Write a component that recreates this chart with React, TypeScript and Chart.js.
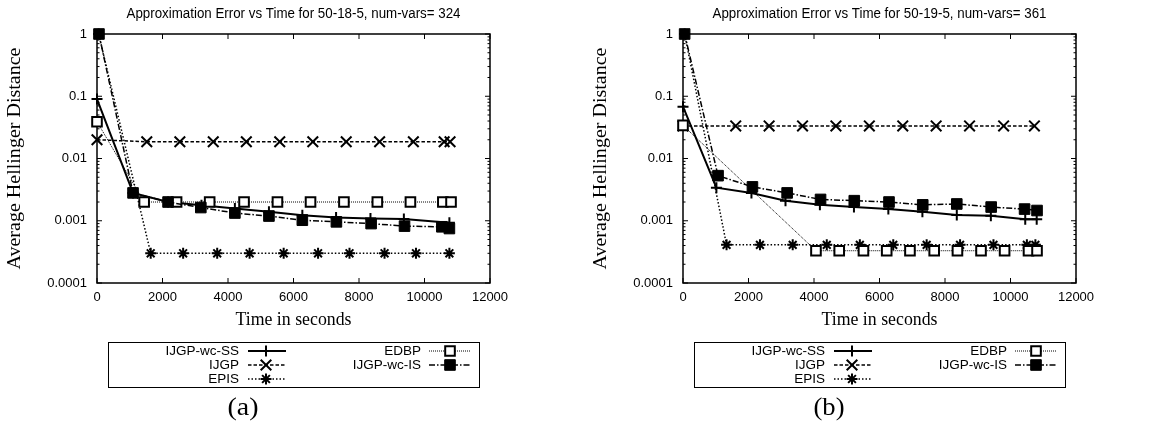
import React, { useEffect, useRef } from 'react';
import { Chart, registerables } from 'chart.js';

Chart.register(...registerables);

// ---------- shared axis data ----------
const X_TICKS = [0, 2000, 4000, 6000, 8000, 10000, 12000];
const Y_TICKS = [1, 0.1, 0.01, 0.001, 0.0001];
const Y_TICK_LABELS = ['1', '0.1', '0.01', '0.001', '0.0001'];
const SERIES_NAMES = ['IJGP-wc-SS', 'IJGP', 'EPIS', 'EDBP', 'IJGP-wc-IS'];
const X_LABEL = 'Time in seconds';
const Y_LABEL = 'Average Hellinger Distance';

// ---------- panel (a) ----------
const A_TITLE = 'Approximation Error vs Time for 50-18-5, num-vars= 324';
const A_PANEL = '(a)';
const A_SS_T = [0, 1100, 2170, 3190, 4210, 5250, 6270, 7300, 8350, 9370, 10760];
const A_SS_V = [0.09, 0.0028, 0.002, 0.00178, 0.00158, 0.00139, 0.00123, 0.00113, 0.00109, 0.00107, 0.00093];
const A_IJGP_T = [0, 1520, 2530, 3550, 4560, 5580, 6590, 7610, 8630, 9660, 10600, 10780];
const A_IJGP_V = [0.02, 0.0186, 0.0186, 0.0186, 0.0186, 0.0186, 0.0186, 0.0186, 0.0186, 0.0186, 0.0186, 0.0186];
const A_EPIS_T = [50, 1640, 2630, 3670, 4660, 5700, 6750, 7710, 8780, 9740, 10760];
const A_EPIS_V = [1, 0.0003, 0.0003, 0.0003, 0.0003, 0.0003, 0.0003, 0.0003, 0.0003, 0.0003, 0.0003];
const A_EDBP_T = [0, 1440, 2430, 3440, 4490, 5510, 6520, 7540, 8560, 9570, 10560, 10810];
const A_EDBP_V = [0.039, 0.002, 0.002, 0.002, 0.002, 0.002, 0.002, 0.002, 0.002, 0.002, 0.002, 0.002];
const A_IS_T = [60, 1100, 2170, 3170, 4210, 5250, 6270, 7310, 8370, 9390, 10530, 10760];
const A_IS_V = [1, 0.0028, 0.002, 0.00163, 0.00133, 0.00119, 0.00102, 0.00096, 0.0009, 0.00082, 0.0008, 0.00075];

// ---------- panel (b) ----------
const B_TITLE = 'Approximation Error vs Time for 50-19-5, num-vars= 361';
const B_PANEL = '(b)';
const B_SS_T = [0, 1020, 2090, 3130, 4180, 5220, 6270, 7310, 8360, 9400, 10450, 10800];
const B_SS_V = [0.068, 0.0034, 0.0028, 0.0021, 0.0018, 0.00166, 0.00155, 0.0014, 0.00124, 0.0012, 0.00106, 0.00106];
const B_IJGP_T = [0, 1610, 2630, 3650, 4670, 5690, 6710, 7730, 8750, 9790, 10730];
const B_IJGP_V = [0.0334, 0.0334, 0.0334, 0.0334, 0.0334, 0.0334, 0.0334, 0.0334, 0.0334, 0.0334, 0.0334];
const B_EPIS_T = [50, 1330, 2350, 3350, 4390, 5400, 6420, 7440, 8460, 9480, 10500, 10760];
const B_EPIS_V = [1, 0.00041, 0.00041, 0.00041, 0.00041, 0.00041, 0.00041, 0.00041, 0.00041, 0.00041, 0.00041, 0.00041];
const B_EDBP_T = [0, 4060, 4770, 5510, 6220, 6930, 7670, 8380, 9100, 9820, 10550, 10810];
const B_EDBP_V = [0.034, 0.00033, 0.00033, 0.00033, 0.00033, 0.00033, 0.00033, 0.00033, 0.00033, 0.00033, 0.00033, 0.00033];
const B_IS_T = [50, 1070, 2120, 3180, 4200, 5230, 6290, 7320, 8360, 9410, 10430, 10810];
const B_IS_V = [1, 0.0053, 0.0035, 0.0028, 0.0022, 0.0021, 0.002, 0.0018, 0.00186, 0.00166, 0.00154, 0.00146];

// ---------- styles (not data) ----------
type Sty = { dash: number[]; width: number; point: string; r: number; fill: string; pbw: number; order: number };
const STYLES: Record<string, Sty> = {
  'IJGP-wc-SS': { dash: [], width: 2, point: 'cross', r: 5.5, fill: '#000', pbw: 2, order: 5 },
  'IJGP': { dash: [3.5, 2], width: 1.5, point: 'crossRot', r: 7.5, fill: '#000', pbw: 2, order: 4 },
  'EPIS': { dash: [1.5, 2], width: 1.5, point: 'star', r: 5.5, fill: '#000', pbw: 2, order: 3 },
  'EDBP': { dash: [1, 1], width: 1, point: 'rect', r: 6.8, fill: '#fff', pbw: 2, order: 2 },
  'IJGP-wc-IS': { dash: [6, 2, 1.5, 2], width: 1.5, point: 'rect', r: 7.5, fill: '#000', pbw: 1, order: 1 },
};

const W = 575;
const H = 427;
const PLOT_LEFT = 97;
const PLOT_RIGHT = 490;
const PLOT_TOP = 34;
const PLOT_BOTTOM = 283;

function drawMarker(ctx: CanvasRenderingContext2D, style: string, x: number, y: number, r: number, fill: string, lw: number) {
  ctx.save();
  ctx.setLineDash([]);
  ctx.lineWidth = lw;
  ctx.strokeStyle = '#000';
  ctx.beginPath();
  const s = r * Math.SQRT1_2;
  if (style === 'cross' || style === 'star') {
    ctx.moveTo(x - r, y); ctx.lineTo(x + r, y);
    ctx.moveTo(x, y - r); ctx.lineTo(x, y + r);
  }
  if (style === 'crossRot' || style === 'star') {
    ctx.moveTo(x - s, y - s); ctx.lineTo(x + s, y + s);
    ctx.moveTo(x - s, y + s); ctx.lineTo(x + s, y - s);
  }
  if (style === 'rect') {
    ctx.rect(x - s, y - s, 2 * s, 2 * s);
    ctx.fillStyle = fill;
    ctx.fill();
  }
  ctx.stroke();
  ctx.restore();
}

function fitText(ctx: CanvasRenderingContext2D, text: string, x: number, y: number, font: string, targetW: number, rotate = false) {
  ctx.save();
  ctx.font = font;
  ctx.fillStyle = '#000';
  ctx.textAlign = 'center';
  ctx.textBaseline = 'middle';
  const w = ctx.measureText(text).width;
  const sx = w > 0 ? targetW / w : 1;
  ctx.translate(x, y);
  if (rotate) ctx.rotate(-Math.PI / 2);
  ctx.scale(sx, 1);
  ctx.fillText(text, 0, 0);
  ctx.restore();
}

const framePlugin = {
  id: 'gnuFrame',
  beforeDatasetsDraw(chart: any) {
    const { ctx, chartArea: a, scales } = chart;
    ctx.save();
    ctx.strokeStyle = '#000';
    ctx.lineWidth = 1;
    ctx.beginPath();
    X_TICKS.forEach((v) => {
      const px = scales.x.getPixelForValue(v);
      ctx.moveTo(px, a.bottom); ctx.lineTo(px, a.bottom - 5);
      ctx.moveTo(px, a.top); ctx.lineTo(px, a.top + 5);
    });
    for (let e = -4; e <= 0; e++) {
      const d = Math.pow(10, e);
      for (let k = 1; k <= 9; k++) {
        if (e === 0 && k > 1) break;
        const py = scales.y.getPixelForValue(k * d);
        const len = k === 1 ? 5 : 2.5;
        ctx.moveTo(a.left, py); ctx.lineTo(a.left + len, py);
        ctx.moveTo(a.right, py); ctx.lineTo(a.right - len, py);
      }
    }
    ctx.stroke();
    ctx.lineWidth = 1.5;
    ctx.strokeRect(a.left, a.top, a.right - a.left, a.bottom - a.top);
    ctx.restore();
  },
};

const textPlugin = {
  id: 'gnuText',
  afterDraw(chart: any, _args: any, opts: any) {
    const { ctx, chartArea: a } = chart;
    const cx = (a.left + a.right) / 2;
    fitText(ctx, opts.title, cx, 14, '14px "Liberation Sans"', 334);
    fitText(ctx, X_LABEL, cx, 320, '19px "Liberation Serif"', 116);
    fitText(ctx, Y_LABEL, 15, (a.top + a.bottom) / 2, '18px "Liberation Serif"', 222, true);
    fitText(ctx, opts.panel, 243, 408, '25px "Liberation Serif"', 31);

    // legend box
    ctx.save();
    ctx.strokeStyle = '#000';
    ctx.lineWidth = 1;
    ctx.strokeRect(108.5, 342.5, 371, 45);
    ctx.restore();

    const rows = [351, 365, 379];
    const cols = [
      { textRight: 239, x0: 248, x1: 286, mx: 266 },
      { textRight: 421, x0: 429, x1: 470, mx: 450 },
    ];
    chart.data.datasets.forEach((ds: any, i: number) => {
      const col = cols[i < 3 ? 0 : 1];
      const y = rows[i < 3 ? i : i - 3];
      ctx.save();
      ctx.font = '13.5px "Liberation Sans"';
      ctx.fillStyle = '#000';
      ctx.textAlign = 'right';
      ctx.textBaseline = 'middle';
      ctx.fillText(ds.label, col.textRight, y);
      ctx.strokeStyle = '#000';
      ctx.lineWidth = ds.borderWidth;
      ctx.setLineDash(ds.borderDash || []);
      ctx.beginPath();
      ctx.moveTo(col.x0, y);
      ctx.lineTo(col.x1, y);
      ctx.stroke();
      ctx.restore();
      drawMarker(ctx, ds.pointStyle, col.mx, y, ds.pointRadius, ds.pointBackgroundColor, ds.pointBorderWidth);
    });
  },
};

function buildConfig(title: string, panel: string, series: [number[], number[]][]): any {
  const datasets = SERIES_NAMES.map((name, i) => {
    const st = STYLES[name];
    const [t, v] = series[i];
    return {
      label: name,
      data: t.map((x, j) => ({ x, y: v[j] })),
      borderColor: '#000',
      borderWidth: st.width,
      borderDash: st.dash,
      pointStyle: st.point,
      pointRadius: st.r,
      pointHoverRadius: st.r,
      pointBackgroundColor: st.fill,
      pointBorderColor: '#000',
      pointBorderWidth: st.pbw,
      fill: false,
      tension: 0,
      clip: false,
      order: st.order,
    };
  });
  return {
    type: 'line',
    data: { datasets },
    options: {
      animation: false,
      responsive: false,
      devicePixelRatio: 1,
      events: [],
      layout: { padding: { left: 0, top: PLOT_TOP, right: W - PLOT_RIGHT, bottom: 0 } },
      plugins: {
        legend: { display: false },
        title: { display: false },
        tooltip: { enabled: false },
        gnuText: { title, panel },
      },
      scales: {
        x: {
          type: 'linear',
          min: 0,
          max: 12000,
          afterFit: (s: any) => { s.height = H - PLOT_BOTTOM; },
          afterBuildTicks: (s: any) => { s.ticks = X_TICKS.map((value) => ({ value })); },
          grid: { display: false, drawTicks: false },
          border: { display: false },
          ticks: {
            autoSkip: false,
            maxRotation: 0,
            padding: 7,
            color: '#000',
            font: { family: '"Liberation Sans"', size: 13 },
            callback: (v: any) => String(v),
          },
        },
        y: {
          type: 'logarithmic',
          min: 0.0001,
          max: 1,
          afterFit: (s: any) => { s.width = PLOT_LEFT; },
          afterBuildTicks: (s: any) => { s.ticks = Y_TICKS.map((value) => ({ value })); },
          grid: { display: false, drawTicks: false },
          border: { display: false },
          ticks: {
            autoSkip: false,
            padding: 10,
            color: '#000',
            font: { family: '"Liberation Sans"', size: 13 },
            callback: (v: any) => {
              const i = Y_TICKS.findIndex((t) => Math.abs(t - Number(v)) < t * 1e-6);
              return i >= 0 ? Y_TICK_LABELS[i] : '';
            },
          },
        },
      },
    },
    plugins: [framePlugin, textPlugin],
  };
}

function Panel({ left, title, panel, series }: { left: number; title: string; panel: string; series: [number[], number[]][] }) {
  const ref = useRef<HTMLCanvasElement>(null);
  useEffect(() => {
    if (!ref.current) return;
    const chart = new Chart(ref.current, buildConfig(title, panel, series));
    return () => chart.destroy();
  }, []);
  return (
    <canvas
      ref={ref}
      width={W}
      height={H}
      style={{ position: 'absolute', left, top: 0, width: W, height: H }}
    />
  );
}

export default function App() {
  const seriesA: [number[], number[]][] = [
    [A_SS_T, A_SS_V],
    [A_IJGP_T, A_IJGP_V],
    [A_EPIS_T, A_EPIS_V],
    [A_EDBP_T, A_EDBP_V],
    [A_IS_T, A_IS_V],
  ];
  const seriesB: [number[], number[]][] = [
    [B_SS_T, B_SS_V],
    [B_IJGP_T, B_IJGP_V],
    [B_EPIS_T, B_EPIS_V],
    [B_EDBP_T, B_EDBP_V],
    [B_IS_T, B_IS_V],
  ];
  return (
    <div style={{ position: 'fixed', left: 0, top: 0, width: 1161, height: 427, background: '#fff', overflow: 'hidden' }}>
      <Panel left={0} title={A_TITLE} panel={A_PANEL} series={seriesA} />
      <Panel left={586} title={B_TITLE} panel={B_PANEL} series={seriesB} />
    </div>
  );
}
